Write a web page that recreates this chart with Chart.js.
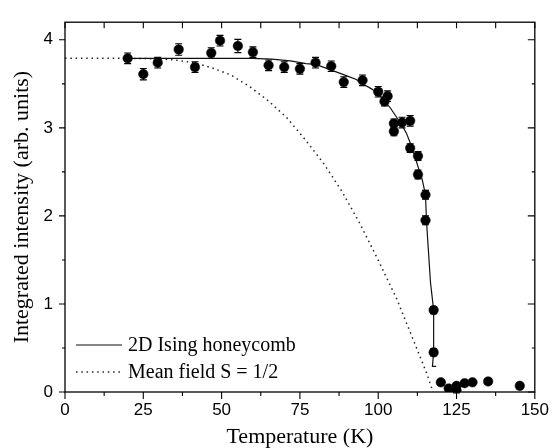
<!DOCTYPE html>
<html><head><meta charset="utf-8">
<script src="https://cdn.jsdelivr.net/npm/chart.js@4/dist/chart.umd.min.js"></script>
<style>html,body{margin:0;padding:0;background:#fff}#wrap{width:557px;height:448px}</style>
</head><body><div id="wrap"><canvas id="c" width="557" height="448"></canvas></div>
<script>
// ---- data ----
const temperature = [20, 25, 29.6, 36.3, 41.5, 46.7, 49.5, 55.2, 60, 65, 70, 75, 80, 85, 89, 95, 100, 102, 103, 105, 105, 107.6, 110.2, 110.2, 112.7, 112.7, 115.1, 115.1, 117.7, 117.7, 120, 122.5, 125, 125, 127.6, 130.1, 135.1, 145.2];
const intensity   = [3.79, 3.61, 3.74, 3.89, 3.69, 3.85, 3.99, 3.93, 3.86, 3.71, 3.69, 3.67, 3.74, 3.70, 3.52, 3.54, 3.41, 3.30, 3.36, 3.05, 2.96, 3.06, 3.08, 2.77, 2.68, 2.47, 2.24, 1.95, 0.93, 0.45, 0.11, 0.04, 0.07, 0.02, 0.10, 0.11, 0.12, 0.07];
const intensityErr= [0.06, 0.065, 0.06, 0.065, 0.06, 0.06, 0.06, 0.075, 0.06, 0.06, 0.06, 0.06, 0.06, 0.06, 0.06, 0.06, 0.06, 0.05, 0.06, 0.05, 0.05, 0.06, 0.06, 0.05, 0.05, 0.05, 0.05, 0.05, 0.04, 0.04, 0.03, 0.03, 0.03, 0.03, 0.03, 0.03, 0.03, 0.03];
const isingT = [20, 30, 40, 50, 60, 66, 72, 77, 80, 84, 87, 90, 93, 95, 98, 100, 102, 104, 105.5, 107.6, 109, 110.2, 111.5, 112.7, 114, 115.1, 115.4, 116, 116.7, 117.7, 117.7, 117.3, 118.5];
const isingI = [3.79, 3.79, 3.79, 3.79, 3.79, 3.78, 3.76, 3.73, 3.72, 3.67, 3.63, 3.59, 3.55, 3.50, 3.44, 3.38, 3.31, 3.22, 3.14, 3.03, 2.94, 2.83, 2.70, 2.56, 2.42, 2.24, 1.95, 1.62, 1.24, 0.93, 0.45, 0.29, 0.29];
const meanFieldT = [0, 20, 29.5, 35.3, 41.2, 47.1, 53, 58.9, 64.8, 70.7, 76.6, 82.5, 88.4, 94.2, 100.1, 106, 111.9, 115.4, 117.5];
const meanFieldI = [3.79, 3.79, 3.785, 3.77, 3.74, 3.68, 3.60, 3.47, 3.31, 3.12, 2.87, 2.60, 2.28, 1.91, 1.49, 1.05, 0.53, 0.22, 0];
const xTicks = [0, 25, 50, 75, 100, 125, 150];
const yTicks = [0, 1, 2, 3, 4];
const legendLabels = ['2D Ising honeycomb', 'Mean field S = 1/2'];
const xTitle = 'Temperature (K)';
const yTitle = 'Integrated intensity (arb. units)';

const pts = (xs, ys) => xs.map((x, i) => ({x: x, y: ys[i]}));

const framePlugin = {
  id: 'frame',
  beforeDatasetsDraw(chart) {
    const {ctx, scales: {x, y}} = chart;
    ctx.save();
    ctx.strokeStyle = '#000'; ctx.lineWidth = 1.1;
    temperature.forEach((t, i) => {
      const px = x.getPixelForValue(t);
      const y1 = y.getPixelForValue(intensity[i] + intensityErr[i]);
      const y2 = y.getPixelForValue(intensity[i] - intensityErr[i]);
      ctx.beginPath();
      ctx.moveTo(px, y1); ctx.lineTo(px, y2);
      ctx.moveTo(px - 3.5, y1); ctx.lineTo(px + 3.5, y1);
      ctx.moveTo(px - 3.5, y2); ctx.lineTo(px + 3.5, y2);
      ctx.stroke();
    });
    ctx.restore();
  },
  afterDraw(chart) {
    const {ctx, chartArea: a, scales: {x, y}} = chart;
    ctx.save();
    ctx.strokeStyle = '#000';
    ctx.lineWidth = 1.3;
    ctx.strokeRect(a.left, a.top, a.right - a.left, a.bottom - a.top);
    ctx.lineWidth = 1.1;
    ctx.beginPath();
    for (let v = 0; v <= 150.01; v += 12.5) {
      const px = x.getPixelForValue(v);
      const major = Math.abs(v % 25) < 0.01;
      ctx.moveTo(px, a.bottom); ctx.lineTo(px, a.bottom + (major ? 7 : 4));
      ctx.moveTo(px, a.top); ctx.lineTo(px, a.top + 6);
    }
    for (let v = 0; v <= 4.01; v += 0.5) {
      const py = y.getPixelForValue(v);
      const major = Math.abs(v % 1) < 0.01;
      ctx.moveTo(a.left, py); ctx.lineTo(a.left - (major ? 6 : 3), py);
      ctx.moveTo(a.right, py); ctx.lineTo(a.right - (major ? 7 : 3), py);
    }
    ctx.stroke();
    // legend
    const ds = chart.data.datasets;
    const rows = [{d: ds[1], y: 346}, {d: ds[2], y: 373}];
    ctx.font = '20px "Liberation Serif"';
    ctx.fillStyle = '#000';
    ctx.textBaseline = 'middle';
    ctx.textAlign = 'left';
    rows.forEach((r, i) => {
      ctx.strokeStyle = r.d.borderColor;
      ctx.lineWidth = r.d.borderWidth;
      ctx.setLineDash(r.d.borderDash || []);
      ctx.beginPath();
      ctx.moveTo(76, r.y - 1); ctx.lineTo(122, r.y - 1);
      ctx.stroke();
      ctx.setLineDash([]);
      ctx.fillText(legendLabels[i], 128, r.y);
    });
    ctx.restore();
  }
};

new Chart(document.getElementById('c'), {
  type: 'scatter',
  data: {
    datasets: [
      {label: 'data', data: pts(temperature, intensity), showLine: false,
       pointRadius: 4.8, pointBackgroundColor: '#000', pointBorderColor: '#111', pointBorderWidth: 0.5},
      {label: legendLabels[0], data: pts(isingT, isingI), showLine: true, pointRadius: 0,
       borderColor: '#111', borderWidth: 1.2, tension: 0},
      {label: legendLabels[1], data: pts(meanFieldT, meanFieldI), showLine: true, pointRadius: 0,
       borderColor: '#222', borderWidth: 1.5, borderDash: [1.5, 3.8], tension: 0}
    ]
  },
  options: {
    responsive: false,
    devicePixelRatio: 1,
    animation: false,
    layout: {padding: {top: 12, right: 19, left: 0, bottom: 0}},
    plugins: {legend: {display: false}, tooltip: {enabled: false}},
    scales: {
      x: {
        type: 'linear', min: 0, max: 150,
        afterBuildTicks: s => { s.ticks = xTicks.map(v => ({value: v})); },
        afterFit: s => { s.height = 56; },
        grid: {display: false, drawTicks: false},
        border: {display: false},
        ticks: {color: '#000', padding: 8, maxRotation: 0, font: {family: '"Liberation Sans"', size: 17}},
        title: {display: true, text: xTitle, color: '#000', padding: {top: 0, bottom: 0},
                font: {family: '"Liberation Serif"', size: 22, lineHeight: 1}}
      },
      y: {
        type: 'linear', min: 0, max: 4.2,
        afterBuildTicks: s => { s.ticks = yTicks.map(v => ({value: v})); },
        afterFit: s => { s.width = 65; },
        grid: {display: false, drawTicks: false},
        border: {display: false},
        ticks: {color: '#000', padding: 12, font: {family: '"Liberation Sans"', size: 17}},
        title: {display: true, text: yTitle, color: '#000', padding: {top: 11, bottom: 0},
                font: {family: '"Liberation Serif"', size: 22, lineHeight: 1}}
      }
    }
  },
  plugins: [framePlugin]
});
</script></body></html>
